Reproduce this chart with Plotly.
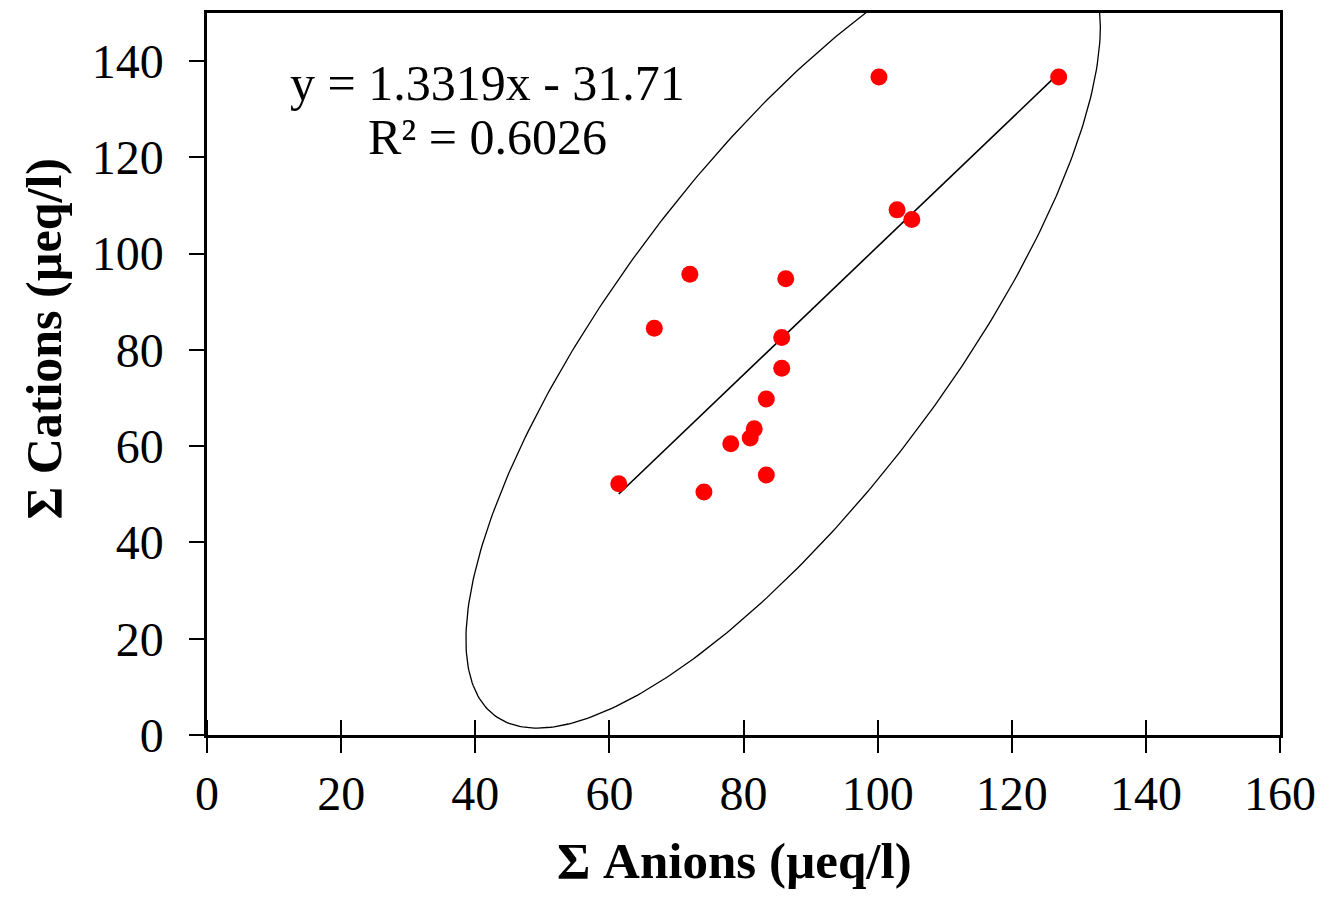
import numpy as np
import plotly.graph_objects as go

# Data
anions = [61.4, 127.0, 100.2, 102.9, 105.1, 72.0, 86.3, 66.7, 85.7, 85.7, 83.4, 81.6, 81.0, 78.1, 83.4, 74.1]
cations = [52.2, 136.7, 136.7, 109.1, 107.1, 95.7, 94.8, 84.5, 82.6, 76.2, 69.8, 63.6, 61.7, 60.5, 54.0, 50.5]

slope = 1.3319
intercept = -31.71
r2 = 0.6026

# Ellipse parameters (half extents, correlation)
ell_half_x = 47.3
ell_half_y = 82.05
ell_rho = 0.776

x_ticks = [0, 20, 40, 60, 80, 100, 120, 140, 160]
y_ticks = [0, 20, 40, 60, 80, 100, 120, 140]

cx = float(np.mean(anions))
cy = float(np.mean(cations))
delta = np.arccos(ell_rho)
t = np.linspace(0, 2 * np.pi, 400)
ex = cx + ell_half_x * np.cos(t)
ey = cy + ell_half_y * np.cos(t - delta)

xl = np.array([min(anions), max(anions)])
yl = slope * xl + intercept

font = "Liberation Serif, Times New Roman, serif"

fig = go.Figure()
fig.add_trace(go.Scatter(x=ex, y=ey, mode="lines", line=dict(color="black", width=1.3),
                         hoverinfo="skip", showlegend=False))
fig.add_trace(go.Scatter(x=xl, y=yl, mode="lines", line=dict(color="black", width=1.6),
                         showlegend=False))
fig.add_trace(go.Scatter(x=anions, y=cations, mode="markers",
                         marker=dict(color="#ff0000", size=17), showlegend=False))

# inside tick positions (slightly offset so they are not merged with the major ticks)
minor_vals = [v + 1e-6 for v in x_ticks[:-1]]

fig.update_layout(
    width=1331, height=900,
    margin=dict(l=207, r=51, t=10, b=165),
    paper_bgcolor="white", plot_bgcolor="white",
    font=dict(family=font, size=48, color="black"),
    xaxis=dict(range=[0, 160], tickvals=x_ticks, ticks="outside", ticklen=15, tickwidth=1.5,
               tickcolor="black", showline=True, linewidth=2.5, linecolor="black", mirror=True,
               showgrid=False, zeroline=False, tickfont=dict(size=48),
               minor=dict(tickmode="array", tickvals=minor_vals, ticks="inside", ticklen=15,
                          tickwidth=1.5, tickcolor="black", showgrid=False)),
    yaxis=dict(range=[0, 150], tickvals=y_ticks, ticks="outside", ticklen=15, tickwidth=1.5,
               tickcolor="black", showline=True, linewidth=2.5, linecolor="black", mirror=True,
               showgrid=False, zeroline=False, ticklabelstandoff=16,
               tickfont=dict(size=48)),
)
# axis titles
fig.add_annotation(x=0.492, y=-0.175, xref="paper", yref="paper", showarrow=False,
                   xanchor="center", yanchor="middle", text="<b>Σ Anions (µeq/l)</b>",
                   font=dict(size=51, family=font))
fig.add_annotation(x=-0.152, y=0.549, xref="paper", yref="paper", showarrow=False,
                   xanchor="center", yanchor="middle", textangle=-90,
                   text="<b>Σ Cations (µeq/l)</b>", font=dict(size=50, family=font))
# regression equation
fig.add_annotation(x=0.2615, y=(735 - 80) / 725, xref="paper", yref="paper", showarrow=False,
                   xanchor="center", yanchor="middle",
                   text=f"y = {slope}x - {abs(intercept)}", font=dict(size=50, family=font))
fig.add_annotation(x=0.2615, y=(735 - 135) / 725, xref="paper", yref="paper", showarrow=False,
                   xanchor="center", yanchor="middle",
                   text=f"R² = {r2}", font=dict(size=50, family=font))

fig.write_html("out.html")
